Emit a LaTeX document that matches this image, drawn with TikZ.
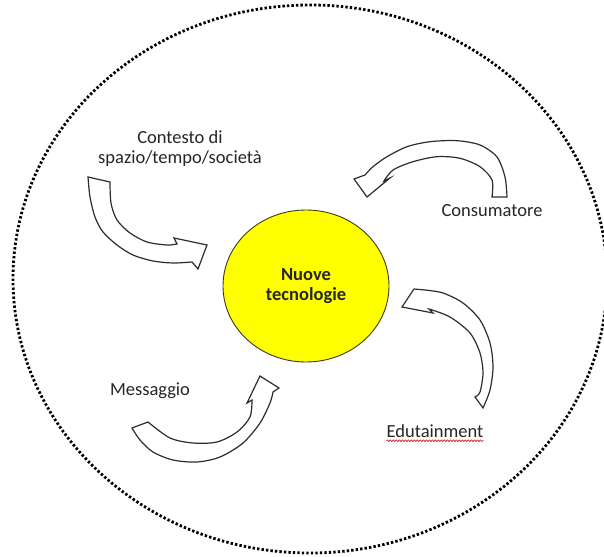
\documentclass[tikz,border=0pt]{standalone}
\usepackage{fontspec}
\setmainfont{Carlito}
\usetikzlibrary{shapes.geometric,decorations.pathmorphing}
\definecolor{textgray}{RGB}{38,38,38}
\definecolor{arrowgray}{RGB}{45,45,45}
\definecolor{coreyellow}{RGB}{255,255,0}
\definecolor{coreline}{RGB}{60,60,20}
\begin{document}
\begin{tikzpicture}[x=1pt,y=-1pt,
  txt/.style={font=\fontsize{18.5}{20}\selectfont, text=textgray, inner sep=0pt, align=center},
  blockarrow/.style={draw=arrowgray, fill=white, line width=1.2pt, line join=miter},
  dotring/.style={draw=black, line width=2.8pt, dash pattern=on 2.4pt off 2.1pt},
  core/.style={ellipse, draw=coreline, line width=0.9pt, fill=coreyellow, minimum width=166pt, minimum height=152pt, inner sep=0pt,
    font=\fontsize{18.5}{20}\selectfont\bfseries, text=textgray, align=center},
  squiggle/.style={draw=red!85!black, line width=0.6pt, decorate, decoration={snake, amplitude=0.8pt, segment length=3pt}}
]
\useasboundingbox (0,0) rectangle (604,556);
\fill[white] (0,0) rectangle (604,556);

% outer dotted ring
\draw[dotring] (310,279) ellipse [x radius=297, y radius=274];

% central circle
\node[core] (core) at (306,286) {Nuove\\tecnologie};

% labels
\node[txt] (contesto) at (180,149) {Contesto di\\spazio/tempo/società};
\node[txt] (consumatore) at (492,211) {Consumatore};
\node[txt] (messaggio) at (150,391) {Messaggio};
\node[txt] (edu) at (435,431) {Edutainment};
\draw[squiggle] ([yshift=-3pt]edu.south west) -- ([yshift=-3pt]edu.south east);

% arrow: Contesto -> core
\draw[blockarrow] plot[smooth] coordinates {(88,177) (90,197) (95,217) (103,232) (117,245) (133,255) (153,261) (173,263) (192,262)}
  -- (198,269) -- (207,245) -- (174,238) -- (177,244)
  -- plot[smooth] coordinates {(177,244) (167,245) (147,242) (130,233) (117,220) (111,203) (110,182)}
  -- cycle;

% arrow: Consumatore -> core
\draw[blockarrow] plot[smooth] coordinates {(507,197) (505,177) (497,157) (480,145) (457,140.7) (430,141.7) (407,146.7) (387,156.7) (373,166.7) (365,175)}
  -- (354,179) -- (367,197) -- (390,178) -- (384,181)
  -- plot[smooth] coordinates {(384,181) (393,170) (413,161.7) (437,156.7) (460,158.3) (480,166.7) (492,180) (492,197)}
  -- cycle;

% arrow: Messaggio -> core
\draw[blockarrow] plot[smooth] coordinates {(132,428) (140,440) (153,452) (173,460) (197,462) (220,457) (243,443) (260,423) (270,403) (273,392)}
  -- (279,388) -- (260,376) -- (247,403) -- (252,400)
  -- plot[smooth] coordinates {(252,400) (250,417) (237,432) (217,442) (193,443) (170,438) (148,422)}
  -- cycle;

% arrow: Edutainment -> core
\draw[blockarrow] plot[smooth] coordinates {(483,408) (490,390) (493,367) (490,343) (480,320) (463,303) (443,293) (425,290)}
  -- (414,289) -- (402,307) -- (433,313) -- (429,309)
  -- plot[smooth] coordinates {(429,309) (450,317) (470,333) (480,353) (483,373) (480,392) (475,397)}
  -- cycle;
\end{tikzpicture}
\end{document}
